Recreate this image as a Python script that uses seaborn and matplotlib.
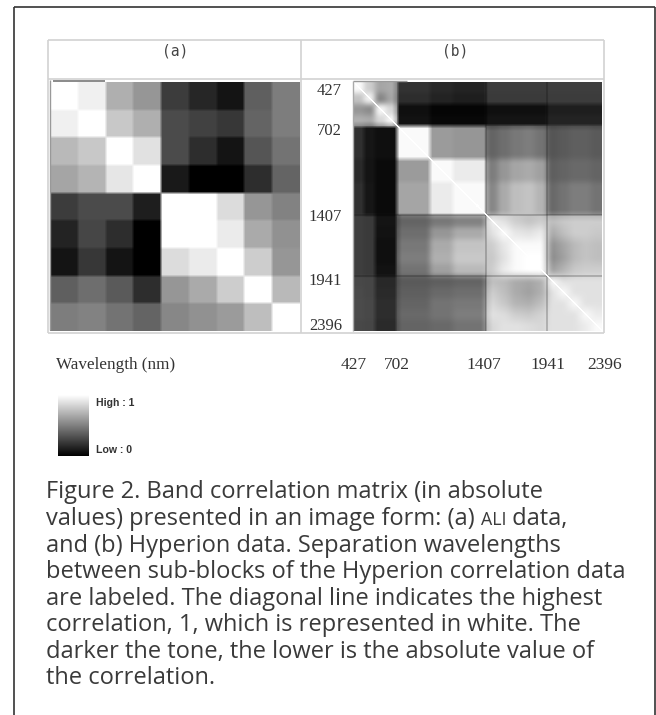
import numpy as np
import matplotlib
matplotlib.use("Agg")
import matplotlib.pyplot as plt
from matplotlib.lines import Line2D
import seaborn as sns

W, H = 656, 715
BANDS_X = ["427", "702", "1407", "1941", "2396"]
BAND_Y_POS = [89, 129, 214, 278, 323]
BAND_X_POS = [354, 397, 484, 548, 605]

# (a) ALI grey levels (0 = black, 255 = white)
ali = [
    [255, 240, 175, 150, 60, 38, 20, 95, 125],
    [240, 255, 200, 175, 75, 65, 55, 100, 125],
    [185, 200, 255, 225, 75, 45, 20, 85, 115],
    [165, 180, 230, 255, 25, 0, 0, 45, 100],
    [60, 75, 75, 30, 255, 255, 220, 150, 130],
    [35, 70, 45, 0, 255, 255, 235, 170, 145],
    [20, 55, 20, 0, 220, 235, 255, 205, 150],
    [95, 110, 90, 45, 150, 170, 205, 255, 185],
    [125, 130, 115, 100, 135, 145, 155, 190, 255],
]

# (b) Hyperion grey levels per sub-block, widths in pixels
hyp_widths = [11, 11, 11, 11, 33, 23, 32, 12, 12, 13, 12, 12, 11, 11, 11, 11, 11]
hyp = [
    [250, 205, 165, 170, 50, 40, 35, 60, 60, 60, 60, 60, 62, 62, 62, 62, 62],
    [195, 240, 135, 165, 45, 35, 30, 58, 58, 58, 58, 58, 60, 60, 60, 60, 60],
    [150, 140, 245, 215, 15, 5, 5, 15, 15, 15, 15, 15, 30, 30, 30, 30, 30],
    [175, 170, 215, 245, 18, 8, 8, 20, 20, 20, 20, 20, 35, 35, 35, 35, 35],
    [48, 22, 15, 15, 250, 155, 150, 100, 110, 120, 125, 115, 85, 90, 95, 95, 90],
    [42, 20, 10, 10, 155, 250, 235, 125, 150, 165, 170, 160, 95, 100, 105, 105, 100],
    [48, 22, 10, 10, 165, 235, 250, 135, 170, 190, 195, 180, 105, 115, 125, 125, 115],
    [62, 58, 20, 20, 100, 120, 130, 240, 225, 205, 195, 205, 190, 200, 205, 205, 205],
    [62, 58, 18, 18, 110, 150, 170, 225, 250, 230, 225, 235, 170, 190, 205, 205, 200],
    [62, 58, 15, 15, 120, 170, 195, 205, 230, 250, 250, 250, 145, 165, 185, 195, 190],
    [62, 58, 15, 15, 125, 175, 200, 200, 225, 250, 255, 255, 140, 160, 185, 195, 190],
    [62, 58, 18, 18, 115, 160, 185, 205, 235, 250, 255, 255, 160, 180, 200, 205, 205],
    [72, 70, 40, 40, 90, 95, 100, 190, 185, 170, 165, 175, 250, 225, 225, 225, 225],
    [74, 70, 42, 42, 95, 105, 110, 205, 190, 170, 160, 175, 225, 250, 225, 225, 225],
    [75, 72, 45, 45, 100, 115, 120, 215, 200, 180, 175, 190, 225, 225, 250, 225, 225],
    [75, 72, 45, 45, 105, 115, 125, 225, 220, 205, 200, 210, 225, 225, 225, 250, 235],
    [72, 70, 42, 42, 100, 105, 115, 215, 225, 225, 220, 215, 225, 225, 225, 235, 250],
]

CAPTION = [
    ["Figure 2. Band correlation matrix (in absolute"],
    ["values) presented in an image form: (a) ", "ALI", " data,"],
    ["and (b) Hyperion data. Separation wavelengths"],
    ["between sub-blocks of the Hyperion correlation data"],
    ["are labeled. The diagonal line indicates the highest"],
    ["correlation, 1, which is represented in white. The"],
    ["darker the tone, the lower is the absolute value of"],
    ["the correlation."],
]

sns.set_theme(style="white")
plt.rcParams["font.family"] = ["Liberation Sans", "DejaVu Sans"]
fig = plt.figure(figsize=(W / 100, H / 100), dpi=100, facecolor="white")


def axbox(x0, y0, x1, y1):
    return fig.add_axes([x0 / W, 1 - y1 / H, (x1 - x0) / W, (y1 - y0) / H])


def soften(m, k=3):
    kernel = np.ones(k) / k
    p = np.pad(m, k, mode="edge")
    p = np.apply_along_axis(np.convolve, 0, p, kernel, mode="same")
    p = np.apply_along_axis(np.convolve, 1, p, kernel, mode="same")
    return p[k:-k, k:-k]


def fline(xs, ys, color, lw):
    fig.add_artist(Line2D([x / W for x in xs], [1 - y / H for y in ys],
                          color=color, lw=lw, solid_capstyle="butt"))


# page frame
fline([14, 14], [7, 715], "#333333", 1.2)
fline([13.5, 654.5], [7, 7], "#333333", 1.2)
fline([654.5, 654.5], [7, 715], "#333333", 1.2)

# table frame
TC = "#d2d2d2"
for xs, ys in [([48, 604], [40, 40]), ([48, 604], [333, 333]), ([48, 48], [40, 333]),
               ([604, 604], [40, 333]), ([301, 301], [40, 333]),
               ([48, 604], [79, 79])]:
    fline(xs, ys, TC, 1.2)

SERIF = "Liberation Serif"
fig.text(175 / W, 1 - 51 / H, "(a)", family="DejaVu Sans Mono", fontsize=10.5, color="#444444",
         ha="center", va="center")
fig.text(455 / W, 1 - 51 / H, "(b)", family="DejaVu Sans Mono", fontsize=10.5, color="#444444",
         ha="center", va="center")

# heatmap (a)
ax_a = axbox(50, 82, 300, 331)
cax = axbox(58, 395, 89, 456)
a_cells = np.repeat(np.repeat(np.array(ali, float) / 255, 28, axis=0), 28, axis=1)
sns.heatmap(soften(a_cells), ax=ax_a, cmap="gray", vmin=0, vmax=1, cbar=True, cbar_ax=cax,
            xticklabels=False, yticklabels=False, square=False)
cax.set_yticks([0.12, 0.88], ["Low : 0", "High : 1"], fontsize=7.6, fontweight="bold", color="#333333")
cax.tick_params(length=0, pad=5)
cax.collections[0].set_edgecolor("face")

# heatmap (b)
ax_b = axbox(353, 82, 602, 331)
m = np.array(hyp, float) / 255
hw = np.array(hyp_widths)
b_cells = soften(np.repeat(np.repeat(m, hw, axis=0), hw, axis=1), 5)
edges = np.cumsum(hw)
e0, e1, e2 = edges[3], edges[6], edges[11]
# the scan is softer inside the short-wave corner and the two long-wave sub-blocks
b_cells[:e0, :e0] = soften(b_cells[:e0, :e0], 7)
b_cells[e1:, e1:] = soften(b_cells[e1:, e1:], 11)
b_cells[e1:, e0:e1] = soften(b_cells[e1:, e0:e1], 7)
b_cells[e0:e1, e1:] = soften(b_cells[e0:e1, e1:], 7)
# darker seams between the large sub-blocks
for e in [e1, e2]:
    b_cells[e - 1:e + 1, :] *= 0.8
    b_cells[:, e - 1:e + 1] *= 0.8
n = len(b_cells)
b_cells[np.arange(n), np.arange(n)] = 1
b_cells[np.arange(n - 1), np.arange(1, n)] = 1
sns.heatmap(b_cells, ax=ax_b, cmap="gray", vmin=0, vmax=1, cbar=False,
            xticklabels=False, yticklabels=False)
ax_b.set_yticks([y - 82 for y in BAND_Y_POS], BANDS_X, family=SERIF, fontsize=12, color="#333333")
ax_b.tick_params(axis="y", length=0, pad=8, labelrotation=0)

# small scan marks along the top edges
fline([53, 105], [80.5, 80.5], "#777777", 1.2)
fline([50, 50], [80, 330], "#999999", 1.0)
fline([353, 407], [80.5, 80.5], "#999999", 1.0)
fline([352.5, 352.5], [81, 331], "#aaaaaa", 1.0)

# wavelength row
fig.text(56 / W, 1 - 365 / H, "Wavelength (nm)", family=SERIF, fontsize=12.3, color="#333333",
         ha="left", va="center")
for x, s in zip(BAND_X_POS, BANDS_X):
    fig.text(x / W, 1 - 365 / H, s, family=SERIF, fontsize=12.5, color="#333333", ha="center", va="center")

# caption
fig.canvas.draw()
r = fig.canvas.get_renderer()
for i, parts in enumerate(CAPTION):
    x = 46
    y = 498.5 + i * 26.55
    for part in parts:
        t = fig.text(x / W, 1 - y / H, part, fontsize=12.8 if part == "ALI" else 17, color="#3a3a3a",
                     ha="left", va="baseline", family="Open Sans")
        x += t.get_window_extent(r).width

fig.savefig("out.png", dpi=100, facecolor="white")
